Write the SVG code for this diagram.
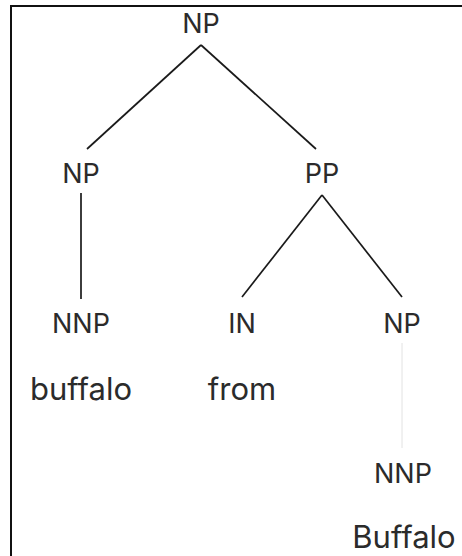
<svg xmlns="http://www.w3.org/2000/svg" width="462" height="556" viewBox="0 0 462 556">
  <style>
    .lbl { font-family: Inter, "Liberation Sans", sans-serif; font-size: 27px; fill: #2b2b2b; text-anchor: middle; }
    .word { font-family: Inter, "Liberation Sans", sans-serif; font-size: 31px; fill: #2b2b2b; text-anchor: middle; }
    .edge { stroke: #1a1a1a; stroke-width: 1.7; fill: none; }
    .leaf { stroke: #e2e2e2; stroke-width: 1; fill: none; }
  </style>
  <rect x="0" y="0" width="462" height="556" fill="#fff"/>
  <!-- frame around the tree -->
  <rect x="11" y="6" width="500" height="600" fill="none" stroke="#111" stroke-width="2"/>

  <g id="connectors">
    <line class="edge" x1="201" y1="45" x2="87" y2="149"/>
    <line class="edge" x1="201" y1="45" x2="316" y2="149"/>
    <line class="edge" x1="81" y1="193" x2="81" y2="299"/>
    <line class="edge" x1="322" y1="195" x2="242" y2="297"/>
    <line class="edge" x1="322" y1="195" x2="402" y2="297"/>
    <line class="leaf" x1="402" y1="343" x2="402" y2="448"/>
  </g>

  <g id="np-root"><text class="lbl" x="201" y="33">NP</text></g>
  <g id="np-left"><text class="lbl" x="81" y="183">NP</text></g>
  <g id="pp"><text class="lbl" x="322" y="183">PP</text></g>
  <g id="nnp-left"><text class="lbl" x="81" y="333">NNP</text></g>
  <g id="in"><text class="lbl" x="242" y="333">IN</text></g>
  <g id="np-right"><text class="lbl" x="402" y="333">NP</text></g>
  <g id="word-buffalo"><text class="word" x="81" y="400">buffalo</text></g>
  <g id="word-from"><text class="word" x="242" y="400">from</text></g>
  <g id="nnp-right"><text class="lbl" x="403" y="483">NNP</text></g>
  <g id="word-Buffalo"><text class="word" x="404" y="548">Buffalo</text></g>
</svg>
